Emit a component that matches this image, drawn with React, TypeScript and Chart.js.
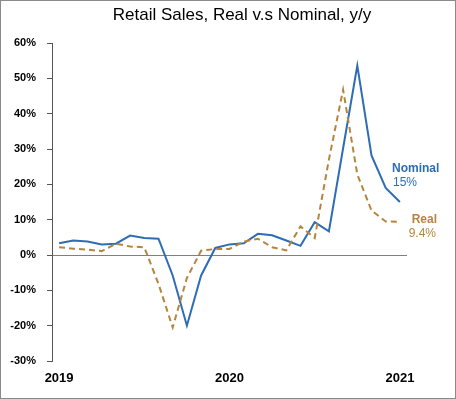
import React, { useEffect, useRef } from "react";
import { Chart, registerables } from "chart.js";

Chart.register(...registerables);

const months: string[] = [
  "2019-01", "2019-02", "2019-03", "2019-04", "2019-05", "2019-06", "2019-07", "2019-08", "2019-09", "2019-10", "2019-11", "2019-12",
  "2020-01", "2020-02", "2020-03", "2020-04", "2020-05", "2020-06", "2020-07", "2020-08", "2020-09", "2020-10", "2020-11", "2020-12",
  "2021-01",
];

const nominal: number[] = [
  3.3, 4.1, 3.8, 3.0, 3.2, 5.5, 4.8, 4.6, -5.8, -20.0, -5.8, 2.0,
  3.0, 3.3, 6.0, 5.6, 4.1, 2.6, 9.3, 6.7, 30.2, 53.6, 28.2, 19.0,
  15.0,
];

const real: number[] = [
  2.2, 1.8, 1.5, 1.1, 3.2, 2.4, 2.2, -8.2, -20.5, -6.5, 1.2, 1.7,
  1.7, 3.8, 4.6, 2.2, 1.3, 8.1, 4.8, 27.0, 46.8, 22.8, 12.6, 9.5,
  9.4,
];

const yTicks = { min: -30, max: 60, step: 10 };
const titleText = "Retail Sales, Real v.s Nominal, y/y";
const nominalLabel = ["Nominal", "15%"];
const realLabel = ["Real", "9.4%"];

const BLUE = "#2e6db3";
const GOLD = "#b5853d";
const FONT = "'Liberation Sans', Arial, sans-serif";

const decorPlugin = {
  id: "decor",
  beforeDraw(chart: any) {
    const ctx = chart.ctx;
    ctx.save();
    ctx.fillStyle = "#ffffff";
    ctx.fillRect(0, 0, chart.width, chart.height);
    ctx.restore();
  },
  afterDraw(chart: any) {
    const ctx = chart.ctx;
    ctx.save();
    // frame
    ctx.strokeStyle = "#8a8a8a";
    ctx.lineWidth = 1;
    ctx.strokeRect(0.5, 0.5, chart.width - 1, chart.height - 1);
    // title
    ctx.fillStyle = "#000000";
    ctx.font = `17px ${FONT}`;
    ctx.textAlign = "center";
    ctx.textBaseline = "middle";
    ctx.fillText(titleText, 242, 15);
    // series labels
    ctx.textBaseline = "alphabetic";
    ctx.textAlign = "left";
    ctx.fillStyle = BLUE;
    ctx.font = `bold 12px ${FONT}`;
    ctx.fillText(nominalLabel[0], 392, 172);
    ctx.font = `12px ${FONT}`;
    ctx.fillText(nominalLabel[1], 393, 186);
    ctx.textAlign = "right";
    ctx.fillStyle = GOLD;
    ctx.font = `bold 12px ${FONT}`;
    ctx.fillText(realLabel[0], 437, 223);
    ctx.font = `12px ${FONT}`;
    ctx.fillText(realLabel[1], 436, 237);
    ctx.restore();
  },
};

export default function App() {
  const ref = useRef<HTMLCanvasElement>(null);

  useEffect(() => {
    if (!ref.current) return;
    const chart = new Chart(ref.current, {
      type: "line",
      data: {
        labels: months,
        datasets: [
          {
            label: "Real",
            data: real,
            borderColor: GOLD,
            borderWidth: 2,
            borderDash: [6, 4],
            pointRadius: 0,
            tension: 0,
            fill: false,
          },
          {
            label: "Nominal",
            data: nominal,
            borderColor: BLUE,
            borderWidth: 2,
            pointRadius: 0,
            tension: 0,
            fill: false,
          },
        ],
      },
      options: {
        responsive: false,
        animation: false,
        devicePixelRatio: 1,
        layout: { padding: { left: 0, right: 49, top: 43, bottom: 0 } },
        plugins: {
          legend: { display: false },
          title: { display: false },
          tooltip: { enabled: false },
        },
        scales: {
          x: {
            type: "category",
            offset: true,
            border: { display: false },
            grid: { display: false, drawTicks: false },
            ticks: {
              autoSkip: false,
              maxRotation: 0,
              padding: 10,
              color: "#000000",
              font: { family: FONT, size: 13, weight: "bold" },
              callback: (_v: any, i: number) =>
                months[i].endsWith("-01") ? months[i].slice(0, 4) : "",
            },
            afterFit: (s: any) => {
              s.height = 38;
            },
          },
          y: {
            min: yTicks.min,
            max: yTicks.max,
            border: { display: true, color: "#555555", width: 1 },
            grid: {
              color: (c: any) => (c.tick && c.tick.value === 0 ? "#7f7f7f" : "rgba(0,0,0,0)"),
              tickColor: "#555555",
              tickLength: 5,
              drawTicks: true,
              lineWidth: 1,
            },
            ticks: {
              stepSize: yTicks.step,
              padding: 11,
              color: "#000000",
              font: { family: FONT, size: 11, weight: "bold" },
              callback: (v: any) => `${v}%`,
            },
            afterFit: (s: any) => {
              s.width = 52;
            },
          },
        },
      },
      plugins: [decorPlugin],
    });
    return () => chart.destroy();
  }, []);

  return (
    <div style={{ position: "absolute", left: 0, top: 0, width: 456, height: 399 }}>
      <canvas ref={ref} width={456} height={399} style={{ display: "block" }} />
    </div>
  );
}
